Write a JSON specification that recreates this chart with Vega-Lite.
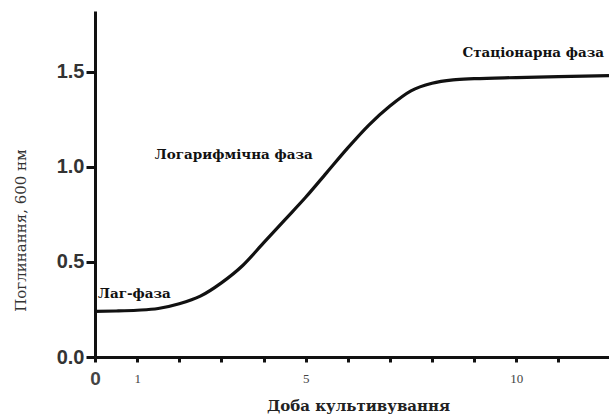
{
  "$schema": "https://vega.github.io/schema/vega-lite/v6.json",
  "width": 514,
  "height": 346,
  "autosize": {"type": "none"},
  "padding": {"left": 95, "top": 11, "right": 0, "bottom": 58},
  "background": "white",
  "config": {
    "view": {"stroke": null}
  },
  "datasets": {
    "curve": [
      {"day": 0, "od": 0.24},
      {"day": 0.5, "od": 0.242},
      {"day": 1, "od": 0.246},
      {"day": 1.5, "od": 0.255},
      {"day": 2, "od": 0.28},
      {"day": 2.5, "od": 0.32},
      {"day": 3, "od": 0.39},
      {"day": 3.5, "od": 0.48},
      {"day": 4, "od": 0.6},
      {"day": 4.5, "od": 0.72},
      {"day": 5, "od": 0.84},
      {"day": 5.5, "od": 0.97},
      {"day": 6, "od": 1.1},
      {"day": 6.5, "od": 1.22},
      {"day": 7, "od": 1.32},
      {"day": 7.5, "od": 1.4},
      {"day": 8, "od": 1.44},
      {"day": 8.5, "od": 1.458},
      {"day": 9, "od": 1.464},
      {"day": 10, "od": 1.47},
      {"day": 11, "od": 1.475},
      {"day": 12.2, "od": 1.48}
    ],
    "labels": [
      {"day": 0.07, "od": 0.33, "label": "Лаг-фаза"},
      {"day": 1.42, "od": 1.06, "label": "Логарифмічна фаза"},
      {"day": 8.72, "od": 1.6, "label": "Стаціонарна фаза"}
    ]
  },
  "encoding": {
    "x": {
      "field": "day", "type": "quantitative",
      "scale": {"domain": [0, 12.2], "nice": false, "zero": false},
      "axis": {
        "values": [0, 1, 2, 3, 4, 5, 6, 7, 8, 9, 10, 11],
        "labelExpr": "indexof([0,1,5,10], datum.value) >= 0 ? datum.label : ''",
        "labelFont": {"condition": {"test": "datum.value == 0", "value": "Liberation Sans"}, "value": "Liberation Serif"},
        "labelFontSize": {"condition": {"test": "datum.value == 0", "value": 19}, "value": 13},
        "labelFontWeight": {"condition": {"test": "datum.value == 0", "value": "bold"}, "value": "normal"},
        "labelColor": "#444",
        "labelBaseline": "middle",
        "labelPadding": 16,
        "labelFlush": false,
        "labelOverlap": false,
        "grid": false,
        "domainColor": "#111", "domainWidth": 3,
        "tickColor": "#111", "tickWidth": 3, "tickSize": 5,
        "title": "Доба культивування",
        "titleFont": "DejaVu Serif", "titleFontSize": 15, "titleFontWeight": "bold", "titleColor": "#222",
        "titleX": 263, "titleY": 48, "titleBaseline": "middle"
      }
    },
    "y": {
      "field": "od", "type": "quantitative",
      "scale": {"domain": [0, 1.82], "nice": false},
      "axis": {
        "values": [0, 0.5, 1, 1.5],
        "format": ".1f",
        "labelFont": "Liberation Sans", "labelFontSize": 20, "labelFontWeight": "bold", "labelColor": "#333",
        "labelPadding": 2,
        "grid": false,
        "domainColor": "#111", "domainWidth": 3,
        "tickColor": "#111", "tickWidth": 3, "tickSize": 9,
        "title": "Поглинання, 600 нм",
        "titleFont": "DejaVu Serif", "titleFontSize": 15, "titleFontWeight": "normal", "titleColor": "#333",
        "titleX": -75, "titleY": 219, "titleAlign": "center", "titleBaseline": "middle", "titleAngle": -90
      }
    }
  },
  "layer": [
    {
      "data": {"name": "curve"},
      "mark": {"type": "line", "interpolate": "monotone", "color": "#111", "strokeWidth": 3.2, "clip": true}
    },
    {
      "data": {"name": "labels"},
      "mark": {"type": "text", "align": "left", "baseline": "middle", "font": "DejaVu Serif", "fontWeight": "bold", "fontSize": 13.5, "color": "#111"},
      "encoding": {
        "text": {"field": "label"}
      }
    }
  ]
}
